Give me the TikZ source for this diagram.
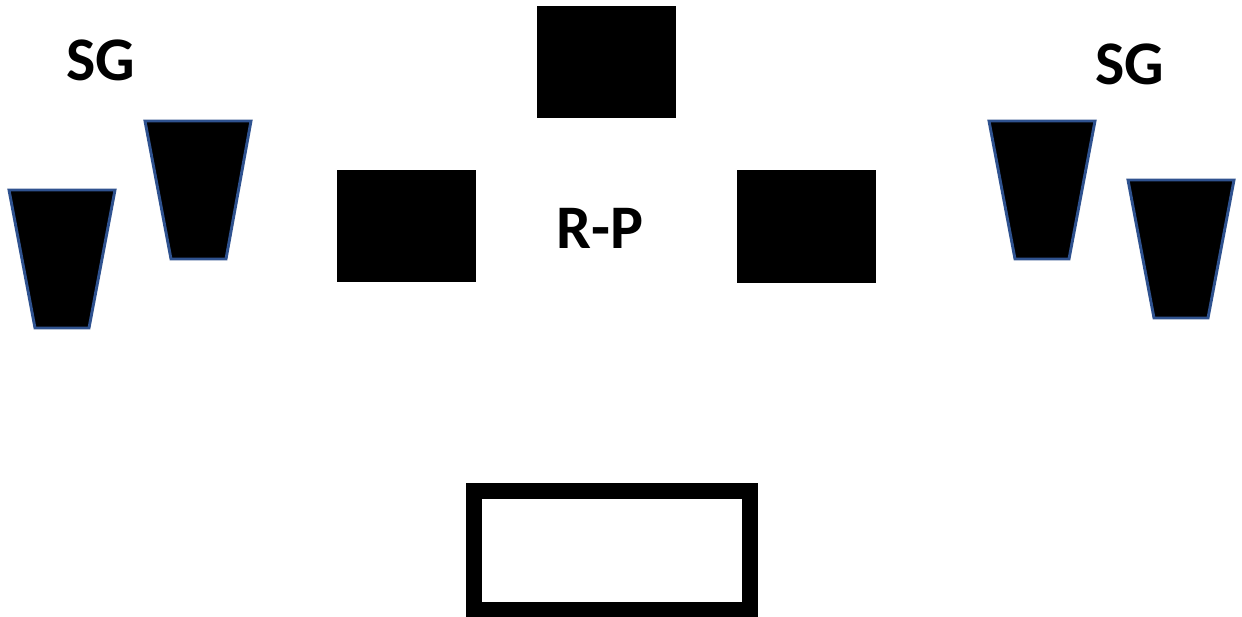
\documentclass[tikz,border=0pt]{standalone}
\usepackage{fontspec}
\setmainfont{Carlito}
\usepackage{tikz}
\definecolor{CupEdge}{HTML}{2F528F}
\tikzset{
  cup/.style={fill=black, draw=CupEdge, line width=2.2pt, line join=miter},
  block/.style={fill=black},
  label/.style={font=\fontsize{46.5}{50}\selectfont\bfseries, inner sep=0pt},
  frame/.style={draw=black, line width=12pt}
}

\begin{document}
\begin{tikzpicture}[x=0.75pt, y=-0.75pt]
  \useasboundingbox (0,0) rectangle (1242,617);

  % glass shapes, left pair
  \draw[cup] (9,190) -- (115,190) -- (89,328) -- (35,328) -- cycle;
  \draw[cup] (145,121) -- (251,121) -- (226,259) -- (171,259) -- cycle;
  % glass shapes, right pair
  \draw[cup] (989,121) -- (1095,121) -- (1069,259) -- (1015,259) -- cycle;
  \draw[cup] (1128,180) -- (1234,180) -- (1208,318) -- (1154,318) -- cycle;

  % squares
  \fill[block] (537,6) rectangle (676,118);
  \fill[block] (337,170) rectangle (476,282);
  \fill[block] (737,170) rectangle (876,283);

  % open box
  \draw[frame] (474,490.5) rectangle (750,610);

  \node[label] (sgleft) at (101,60) {SG};
  \node[label] (sgright) at (1130,64) {SG};
  \node[label] (rp) at (600,228) {R-P};
\end{tikzpicture}
\end{document}
